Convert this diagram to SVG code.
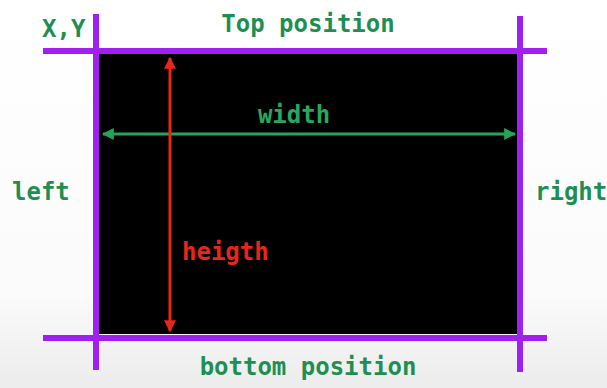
<svg xmlns="http://www.w3.org/2000/svg" width="607" height="388" viewBox="0 0 607 388">
  <defs>
    <linearGradient id="bg" x1="0" y1="0" x2="0" y2="1">
      <stop offset="0" stop-color="#ffffff"/>
      <stop offset="0.75" stop-color="#fbfbfb"/>
      <stop offset="1" stop-color="#ececec"/>
    </linearGradient>
    <marker id="ag" viewBox="0 0 10 10" refX="9" refY="5" markerWidth="4" markerHeight="4" orient="auto-start-reverse">
      <path d="M0,0 L10,5 L0,10 z" fill="#22a55a"/>
    </marker>
    <marker id="ar" viewBox="0 0 10 10" refX="9" refY="5" markerWidth="4" markerHeight="4" orient="auto-start-reverse">
      <path d="M0,0 L10,5 L0,10 z" fill="#e8261a"/>
    </marker>
  </defs>
  <style>
    .t { font-family: "DejaVu Sans Mono", "Liberation Mono", monospace; font-weight: bold; font-size: 24px; }
    .g { fill: #1e8f52; }
    .gi { fill: #27a85e; }
    .r { fill: #e8261a; }
    .p { stroke: #a020f0; stroke-width: 6; stroke-linecap: butt; }
  </style>
  <rect x="0" y="0" width="607" height="388" fill="url(#bg)"/>
  <g id="box">
    <rect x="99" y="54" width="419" height="280" fill="#000"/>
  </g>
  <g id="connectors">
    <line class="p" x1="43" y1="51" x2="547" y2="51"/>
    <line class="p" x1="43" y1="338" x2="547" y2="338"/>
    <line class="p" x1="96" y1="14" x2="96" y2="370"/>
    <line class="p" x1="520" y1="16" x2="520" y2="372"/>
    <line x1="103" y1="134" x2="515" y2="134" stroke="#22a55a" stroke-width="3" marker-start="url(#ag)" marker-end="url(#ag)"/>
    <line x1="170" y1="58" x2="170" y2="331" stroke="#e8261a" stroke-width="3" marker-start="url(#ar)" marker-end="url(#ar)"/>
  </g>
  <g id="labels">
    <text class="t g" x="42" y="37">X,Y</text>
    <text class="t g" x="308" y="32" text-anchor="middle">Top position</text>
    <text class="t gi" x="294" y="123" text-anchor="middle">width</text>
    <text class="t g" x="12" y="200">left</text>
    <text class="t g" x="535" y="200">right</text>
    <text class="t r" x="182" y="260">heigth</text>
    <text class="t g" x="308" y="375" text-anchor="middle">bottom position</text>
  </g>
</svg>
